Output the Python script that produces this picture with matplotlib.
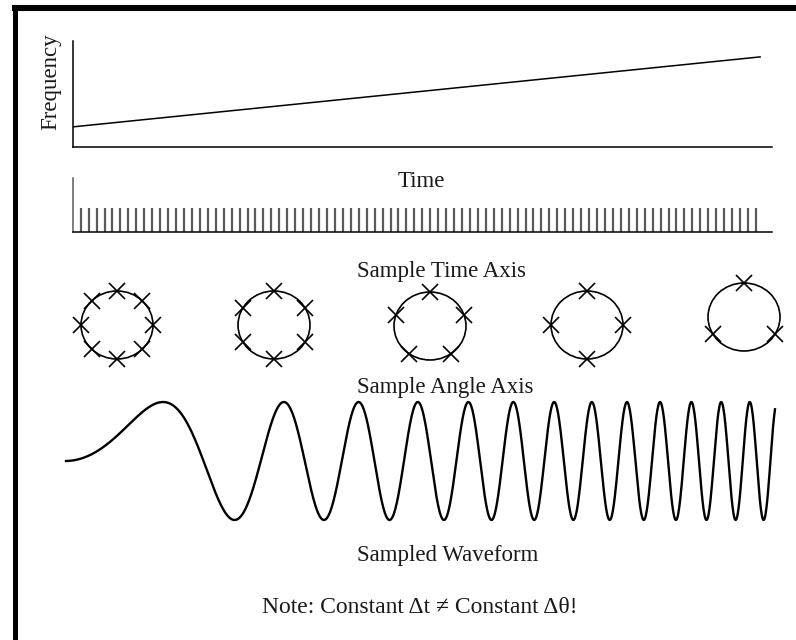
import numpy as np
import matplotlib
matplotlib.use('Agg')
import matplotlib.pyplot as plt
from matplotlib.patches import Ellipse
from matplotlib.lines import Line2D

plt.rcParams['font.family'] = ['Liberation Serif', 'DejaVu Serif']

W, H = 796, 640

# frequency ramp: time fraction vs relative frequency
freq_t = [0.0, 0.983]
freq_vals = [0.19, 0.85]

# sample instants along the time axis
n_time_samples = 86
first_sample = 0.011
last_sample = 0.977

# samples per revolution on each angle circle, and angle of the first one
samples_per_circle = [8, 6, 5, 4, 3]
first_angle = [0, 90, 90, 0, 90]

# chirp waveform: total cycles and the small linear part of the phase
wave_cycles = 13.17
wave_lin = 0.03
n_wave_pts = 1400

# layout (pixels)
circle_x = [117, 274, 430, 587, 744]
circle_y = [325, 325, 326, 325, 317]
circle_w, circle_h = 72, 68

txt = dict(fontsize=16.5, color='#1a1a1a')


def px_axes(x0, y0, x1, y1):
    # add an axes given its pixel box (top-left origin)
    return fig.add_axes([x0 / W, 1 - y1 / H, (x1 - x0) / W, (y1 - y0) / H])


fig = plt.figure(figsize=(W / 100, H / 100), dpi=100)

# frame, only top and left visible
fig.add_artist(Line2D([12 / W, 1], [1 - 8 / H, 1 - 8 / H], color='black', lw=4.4,
                      transform=fig.transFigure, solid_capstyle='butt'))
fig.add_artist(Line2D([14.5 / W, 14.5 / W], [0, 1 - 5 / H], color='black', lw=3.6,
                      transform=fig.transFigure, solid_capstyle='butt'))

# frequency vs time
ax1 = px_axes(73, 41, 772, 147)
ax1.plot(freq_t, freq_vals, color='black', lw=1.1)
ax1.set_xlim(0, 1)
ax1.set_ylim(0, 1)
for s in ['top', 'right']:
    ax1.spines[s].set_visible(False)
for s in ['left', 'bottom']:
    ax1.spines[s].set_linewidth(1.1)
ax1.set_xticks([])
ax1.set_yticks([])
fig.text(51 / W, 1 - 82 / H, 'Frequency', rotation=90, ha='center', va='center', **txt)
fig.text(398 / W, 1 - 187 / H, 'Time', ha='left', va='baseline', **txt)

# sample time axis
ax2 = px_axes(73, 178, 772, 232)
ts = np.linspace(first_sample, last_sample, n_time_samples)
ax2.vlines(ts, 0, 0.44, color='#5a5a5a', lw=1.6)
ax2.set_xlim(0, 1)
ax2.set_ylim(0, 1)
for s in ['top', 'right']:
    ax2.spines[s].set_visible(False)
ax2.spines['left'].set_color('#5a5a5a')
ax2.spines['left'].set_linewidth(1.1)
ax2.spines['bottom'].set_linewidth(1.1)
ax2.set_xticks([])
ax2.set_yticks([])
fig.text(357 / W, 1 - 277 / H, 'Sample Time Axis', ha='left', va='baseline', **txt)

# sample angle circles
ax3 = px_axes(0, 270, W, 375)
ax3.set_xlim(0, W)
ax3.set_ylim(375, 270)
ax3.axis('off')
for cx, cy, n, a0 in zip(circle_x, circle_y, samples_per_circle, first_angle):
    ax3.add_patch(Ellipse((cx, cy), circle_w, circle_h, fill=False, ec='black', lw=1.2))
    ang = np.deg2rad(a0 + 360.0 / n * np.arange(n))
    ax3.plot(cx + circle_w / 2 * np.cos(ang), cy - circle_h / 2 * np.sin(ang), 'x',
             color='black', ms=12, mew=1.2, clip_on=False)
fig.text(357 / W, 1 - 393 / H, 'Sample Angle Axis', ha='left', va='baseline', **txt)

# sampled chirp waveform
ax4 = px_axes(66, 402, 775, 520)
u = np.linspace(0, 1, n_wave_pts)
cyc = wave_lin * u + (wave_cycles - wave_lin) * u ** 2
ax4.plot(u, np.sin(2 * np.pi * cyc), color='black', lw=1.7, clip_on=False)
ax4.set_xlim(0, 1)
ax4.set_ylim(-1, 1)
ax4.axis('off')
fig.text(357 / W, 1 - 561 / H, 'Sampled Waveform', ha='left', va='baseline', **txt)

note = dict(txt, fontsize=17)
fig.text(262 / W, 1 - 613 / H, 'Note: Constant \u0394t \u2260 Constant \u0394\u03b8!',
         ha='left', va='baseline', **note)

fig.savefig('out.png', dpi=100)
